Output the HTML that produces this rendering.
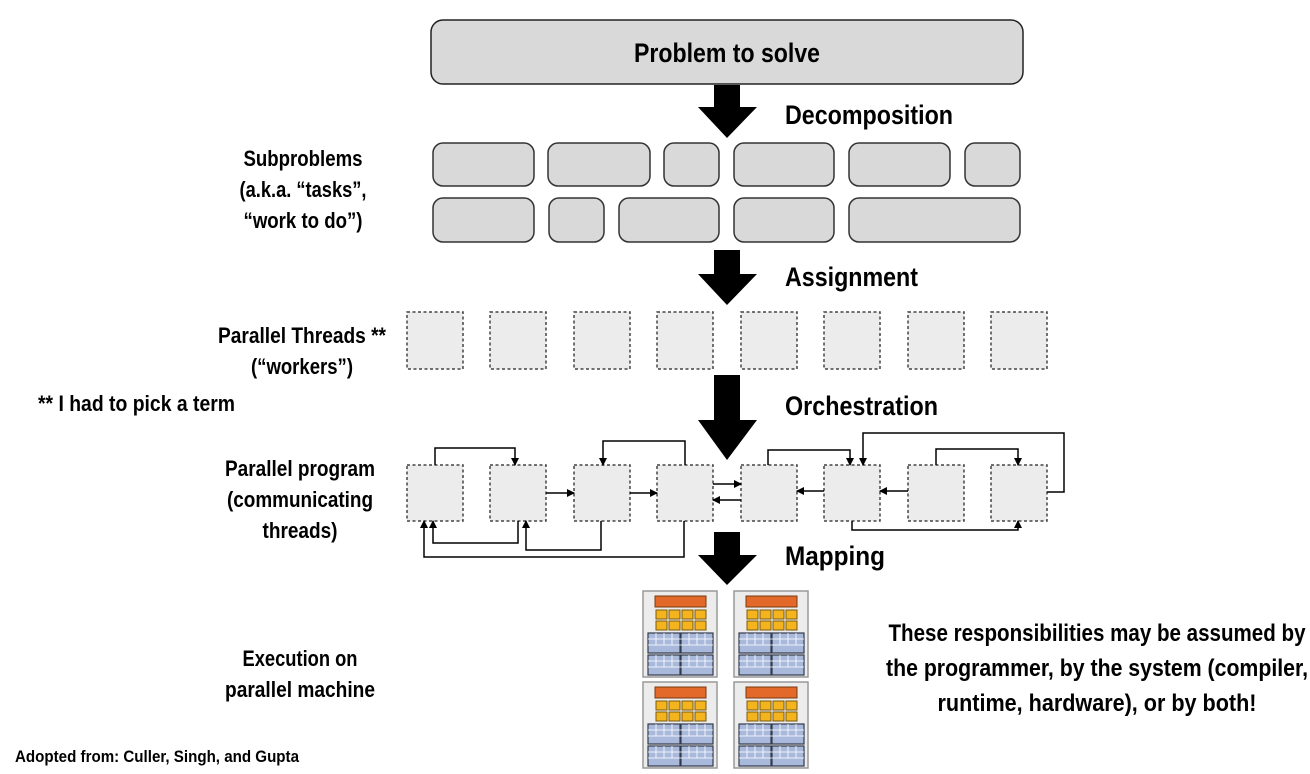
<!DOCTYPE html>
<html><head><meta charset="utf-8"><style>
html,body{margin:0;padding:0;background:#fff;}
svg text{font-family:"Liberation Sans",sans-serif;font-weight:bold;fill:#000;}
</style></head><body>
<svg width="1310" height="769" viewBox="0 0 1310 769" xmlns="http://www.w3.org/2000/svg">
<defs>
<marker id="ah" markerWidth="8" markerHeight="8" refX="7" refY="4" orient="auto" markerUnits="userSpaceOnUse">
<path d="M0,0 L8,4 L0,8 z" fill="#000"/></marker>
<g id="chip">
<rect x="0" y="0" width="74" height="86" fill="#ececec" stroke="#999" stroke-width="1.5"/>
<rect x="12" y="5" width="51" height="11" fill="#e2692a" stroke="#7a3a10" stroke-width="1"/>
<g fill="#f4b41e" stroke="#7a5a10" stroke-width="1">
<rect x="13" y="19" width="11" height="9"/><rect x="26" y="19" width="11" height="9"/><rect x="39" y="19" width="11" height="9"/><rect x="52" y="19" width="11" height="9"/>
<rect x="13" y="30" width="11" height="9"/><rect x="26" y="30" width="11" height="9"/><rect x="39" y="30" width="11" height="9"/><rect x="52" y="30" width="11" height="9"/>
</g>
<g fill="#a9b9dc" stroke="#333a4a" stroke-width="1.2">
<rect x="5" y="42" width="32" height="20"/><rect x="38" y="42" width="32" height="20"/>
<rect x="5" y="64" width="32" height="20"/><rect x="38" y="64" width="32" height="20"/>
</g>
<g stroke="#fff" stroke-width="0.8">
<path d="M5,48 H70 M5,54 H70 M5,70 H70 M5,76 H70 M13,42 V54 M21,42 V54 M29,42 V54 M46,42 V54 M54,42 V54 M62,42 V54 M13,64 V76 M21,64 V76 M29,64 V76 M46,64 V76 M54,64 V76 M62,64 V76"/>
</g>
</g>
</defs>

<rect x="431" y="20" width="592" height="64" rx="12" fill="#d9d9d9" stroke="#222" stroke-width="1.5"/>
<text x="727" y="62" font-size="27" text-anchor="middle" textLength="186" lengthAdjust="spacingAndGlyphs">Problem to solve</text>

<g fill="#000">
<path d="M714,85 H740 V107 H757 L727,138 L698,107 H714 Z"/>
<path d="M714,250 H740 V274 H757 L727,305 L698,274 H714 Z"/>
<path d="M714,375 H740 V420 H757 L727,460 L698,420 H714 Z"/>
<path d="M714,532 H740 V555 H757 L727,585 L698,555 H714 Z"/>
</g>
<g font-size="27">
<text x="785" y="124" textLength="168" lengthAdjust="spacingAndGlyphs">Decomposition</text>
<text x="785" y="286" textLength="133" lengthAdjust="spacingAndGlyphs">Assignment</text>
<text x="785" y="415" textLength="153" lengthAdjust="spacingAndGlyphs">Orchestration</text>
<text x="785" y="565" textLength="100" lengthAdjust="spacingAndGlyphs">Mapping</text>
</g>

<g fill="#d9d9d9" stroke="#333" stroke-width="1.5">
<rect x="433" y="143" width="101" height="43" rx="10"/>
<rect x="548" y="143" width="102" height="43" rx="10"/>
<rect x="664" y="143" width="55" height="43" rx="10"/>
<rect x="734" y="143" width="100" height="43" rx="10"/>
<rect x="849" y="143" width="101" height="43" rx="10"/>
<rect x="965" y="143" width="55" height="43" rx="10"/>
<rect x="433" y="198" width="101" height="44" rx="10"/>
<rect x="549" y="198" width="55" height="44" rx="10"/>
<rect x="619" y="198" width="100" height="44" rx="10"/>
<rect x="734" y="198" width="100" height="44" rx="10"/>
<rect x="849" y="198" width="171" height="44" rx="10"/>
</g>

<g fill="#ececec" stroke="#444" stroke-width="1.5" stroke-dasharray="3,2.5">
<rect x="407" y="312" width="56" height="57"/><rect x="490" y="312" width="56" height="57"/>
<rect x="574" y="312" width="56" height="57"/><rect x="657" y="312" width="56" height="57"/>
<rect x="741" y="312" width="56" height="57"/><rect x="824" y="312" width="56" height="57"/>
<rect x="908" y="312" width="56" height="57"/><rect x="991" y="312" width="56" height="57"/>
<rect x="407" y="465" width="56" height="56"/><rect x="490" y="465" width="56" height="56"/>
<rect x="574" y="465" width="56" height="56"/><rect x="657" y="465" width="56" height="56"/>
<rect x="741" y="465" width="56" height="56"/><rect x="824" y="465" width="56" height="56"/>
<rect x="908" y="465" width="56" height="56"/><rect x="991" y="465" width="56" height="56"/>
</g>

<g fill="none" stroke="#000" stroke-width="1.5" marker-end="url(#ah)">
<path d="M435,465 V448 H515 V465"/>
<path d="M546,493 H574"/>
<path d="M630,493 H657"/>
<path d="M685,465 V441 H603 V465"/>
<path d="M713,484 H741"/>
<path d="M741,500 H713"/>
<path d="M768,465 V450 H850 V465"/>
<path d="M824,491 H797"/>
<path d="M908,491 H880"/>
<path d="M1047,492 H1064 V433 H863 V465"/>
<path d="M936,465 V449 H1018 V465"/>
<path d="M852,521 V530 H1018 V521"/>
<path d="M518,521 V543 H433 V521"/>
<path d="M601,521 V550 H526 V521"/>
<path d="M684,521 V557 H424 V521"/>
</g>

<use href="#chip" x="643" y="591"/>
<use href="#chip" x="734" y="591"/>
<use href="#chip" x="643" y="682"/>
<use href="#chip" x="734" y="682"/>

<g font-size="22" text-anchor="middle">
<text x="303" y="166" textLength="119" lengthAdjust="spacingAndGlyphs">Subproblems</text>
<text x="303" y="197" textLength="127" lengthAdjust="spacingAndGlyphs">(a.k.a. “tasks”,</text>
<text x="303" y="228" textLength="119" lengthAdjust="spacingAndGlyphs">“work to do”)</text>
<text x="302" y="343" textLength="168" lengthAdjust="spacingAndGlyphs">Parallel Threads **</text>
<text x="302" y="374" textLength="102" lengthAdjust="spacingAndGlyphs">(“workers”)</text>
<text x="300" y="476" textLength="150" lengthAdjust="spacingAndGlyphs">Parallel program</text>
<text x="300" y="507" textLength="146" lengthAdjust="spacingAndGlyphs">(communicating</text>
<text x="300" y="538" textLength="75" lengthAdjust="spacingAndGlyphs">threads)</text>
<text x="300" y="666" textLength="115" lengthAdjust="spacingAndGlyphs">Execution on</text>
<text x="300" y="697" textLength="150" lengthAdjust="spacingAndGlyphs">parallel machine</text>
</g>
<text x="38" y="411" font-size="22" textLength="197" lengthAdjust="spacingAndGlyphs">** I had to pick a term</text>
<text x="15" y="762" font-size="17" textLength="284" lengthAdjust="spacingAndGlyphs">Adopted from: Culler, Singh, and Gupta</text>
<g font-size="24" text-anchor="middle">
<text x="1097" y="641" textLength="417" lengthAdjust="spacingAndGlyphs">These responsibilities may be assumed by</text>
<text x="1097" y="676" textLength="422" lengthAdjust="spacingAndGlyphs">the programmer, by the system (compiler,</text>
<text x="1097" y="711" textLength="319" lengthAdjust="spacingAndGlyphs">runtime, hardware), or by both!</text>
</g>
</svg>
</body></html>
